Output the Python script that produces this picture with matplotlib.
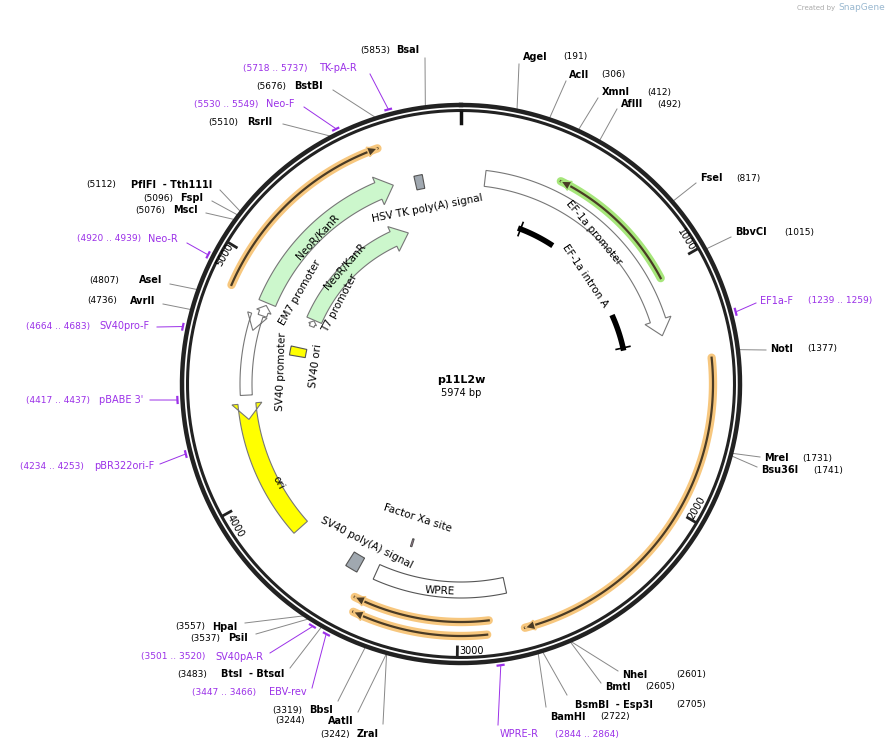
import numpy as np
import matplotlib
matplotlib.use("Agg")
import matplotlib.pyplot as plt
from matplotlib.patches import Polygon

TOTAL = 5974
NAME = "p11L2w"

# restriction sites
site_names = ["AgeI", "AclI", "XmnI", "AflII", "FseI", "BbvCI", "NotI", "MreI", "Bsu36I",
              "NheI", "BmtI", "BsmBI  - Esp3I", "BamHI",
              "BsaI", "BstBI", "RsrII", "PflFI  - Tth111I", "FspI", "MscI", "AseI", "AvrII",
              "HpaI", "PsiI", "BtsI  - BtsαI", "BbsI", "AatII", "ZraI"]
site_bp = [191, 306, 412, 492, 817, 1015, 1377, 1731, 1741,
           2601, 2605, 2705, 2722,
           5853, 5676, 5510, 5112, 5096, 5076, 4807, 4736,
           3557, 3537, 3483, 3319, 3244, 3242]

primer_names = ["TK-pA-R", "Neo-F", "Neo-R", "SV40pro-F", "pBABE 3'", "pBR322ori-F",
                "SV40pA-R", "EBV-rev", "WPRE-R", "EF1a-F"]
primer_start = [5718, 5530, 4920, 4664, 4417, 4234, 3501, 3447, 2844, 1239]
primer_end = [5737, 5549, 4939, 4683, 4437, 4253, 3520, 3466, 2864, 1259]

# layout of labels: name x, pos x, y, right side?, leader end
site_layout = [
    (523, 563, 57, True, (519, 64)), (569, 601, 75, True, (566, 81)),
    (602, 647, 92, True, (598, 98)), (621, 657, 104, True, (617, 109)),
    (700, 736, 178, True, (696, 183)), (735, 784, 232, True, (731, 237)),
    (770, 807, 349, True, (766, 350)), (764, 802, 458, True, (760, 457)),
    (761, 813, 470, True, (757, 467)), (622, 676, 675, True, (618, 671)),
    (605, 645, 687, True, (601, 683)), (575, 676, 705, True, (567, 695)),
    (550, 600, 717, True, (546, 707)),
    (419, 390, 50, False, (425, 58)), (323, 286, 86, False, (333, 90)),
    (272, 238, 122, False, (283, 124)), (212, 116, 185, False, (220, 190)),
    (203, 173, 198, False, (212, 201)), (198, 165, 210, False, (206, 213)),
    (162, 119, 280, False, (170, 284)), (155, 117, 301, False, (163, 304)),
    (237, 205, 627, False, (245, 623)), (248, 220, 638, False, (256, 634)),
    (284, 207, 674, False, (290, 668)), (333, 302, 710, False, (338, 701)),
    (354, 305, 721, False, (358, 712)), (379, 350, 734, False, (383, 724)),
]
primer_layout = [
    (357, 308, 68, False, (370, 74)), (295, 258, 104, False, (304, 107)),
    (178, 141, 239, False, (187, 243)), (150, 90, 326, False, (157, 327)),
    (143, 90, 400, False, (150, 400)), (154, 84, 466, False, (160, 464)),
    (263, 205, 657, False, (270, 653)), (307, 256, 692, False, (312, 688)),
    (500, 555, 734, True, (498, 725)), (760, 808, 301, True, (756, 303)),
]

# features
arrow_feats = [  # name, start, end, direction, r, width, fill
    ("EF-1a promoter", 111, 1270, 1, 207, 16, "white"),
    ("ori", 3787, 4323, -1, 215, 18, "#ffff00"),
    ("SV40 promoter", 4431, 4720, -1, 215, 12, "white"),
    ("EM7 promoter", 4795, 4845, 1, 210, 9, "white"),
    ("NeoR/KanR", 4857, 5662, 1, 210, 18, "#ccf7cc"),
    ("T7 promoter", 4830, 4866, 1, 160, 5, "white"),
    ("NeoR/KanR", 4870, 5655, 1, 160, 16, "#ccf7cc"),
]
box_feats = [
    ("WPRE", 2783, 3389, 206, 16, "white"),
    ("HSV TK poly(A) signal", 5762, 5800, 206, 14, "#a0a8b0"),
    ("SV40 poly(A) signal", 3468, 3525, 207, 16, "#a0a8b0"),
    ("SV40 ori", 4640, 4690, 166, 16, "#ffff00"),
    ("Factor Xa site", 3266, 3274, 166, 8, "#e8a0c8"),
]
line_feats = [  # start, end, direction, r, halo colour
    (1394, 2743, 1, 252, "#f7c77e"),
    (2876, 3427, 1, 238, "#f7c77e"),
    (2888, 3407, 1, 252, "#f7c77e"),
    (4868, 5650, 1, 250, "#f7c77e"),
    (1030, 435, -1, 226, "#a6e67a"),
]
intron_parts = [(349, 541), (1102, 1285)]
intron_r = 166

# feature labels: text, x, y, rotation
feat_labels = [
    ("EF-1a promoter", 594, 233, -50), ("EF-1a intron A", 585, 276, -56),
    ("NeoR/KanR", 318, 237, 47), ("NeoR/KanR", 345, 267, 49),
    ("EM7 promoter", 300, 293, 60), ("T7 promoter", 340, 303, 62),
    ("HSV TK poly(A) signal", 427, 208, 11), ("SV40 promoter", 281, 372, 88),
    ("SV40 ori", 316, 366, 83), ("ori", 278, 483, -62),
    ("SV40 poly(A) signal", 367, 543, -27), ("Factor Xa site", 418, 518, -18),
    ("WPRE", 440, 591, -3),
]
ticks = [1000, 2000, 3000, 4000, 5000]
tick_labels = [("1000", 686, 240, -58), ("2000", 697, 508, 60), ("3000", 472, 651, 0),
               ("4000", 235, 526, -60), ("5000", 225, 255, 60)]

CX, CY = 461, 384
PURPLE = "#9b30e8"


def ang(bp):
    return np.deg2rad(bp / TOTAL * 360.0)


def pt(bp, r):
    a = ang(bp)
    return CX + r * np.sin(a), CY - r * np.cos(a)


def arc(b0, b1, r, n=120):
    bs = np.linspace(b0, b1, n)
    return np.array([pt(b, r) for b in bs])


fig = plt.figure(figsize=(8.95, 7.51), dpi=100)
ax = fig.add_axes([0, 0, 1, 1])
ax.set_xlim(0, 895)
ax.set_ylim(751, 0)
ax.axis("off")

# backbone
for r, lw in [(279, 3.2), (273.5, 2.2)]:
    c = arc(0, TOTAL, r, 400)
    ax.plot(c[:, 0], c[:, 1], color="#222222", lw=lw, zorder=3)
for t in ticks:
    p0, p1 = pt(t, 263), pt(t, 272)
    ax.plot([p0[0], p1[0]], [p0[1], p1[1]], color="#222222", lw=2, zorder=3)
p0, p1 = pt(0, 261), pt(0, 272)
ax.plot([p0[0], p1[0]], [p0[1], p1[1]], color="#111111", lw=2.5, zorder=3)
for txt, x, y, rot in tick_labels:
    ax.text(x, y, txt, fontsize=7, rotation=rot, ha="center", va="center")

# arrow features
for name, b0, b1, d, r, w, fill in arrow_feats:
    head = min(16.0 / r * TOTAL / (2 * np.pi), abs(b1 - b0) * 0.6)
    bb = b1 - d * head
    outer = arc(b0, bb, r + w / 2)
    inner = arc(bb, b0, r - w / 2)
    hw = w / 2 + min(6, w * 0.35)
    poly = np.vstack([outer, [pt(bb, r + hw)], [pt(b1, r)], [pt(bb, r - hw)], inner])
    ax.add_patch(Polygon(poly, closed=True, facecolor=fill, edgecolor="#777777", lw=0.8, zorder=4))

for name, b0, b1, r, w, fill in box_feats:
    poly = np.vstack([arc(b0, b1, r + w / 2), arc(b1, b0, r - w / 2)])
    ax.add_patch(Polygon(poly, closed=True, facecolor=fill, edgecolor="#555555", lw=0.8, zorder=4))

for b0, b1, d, r, halo in line_feats:
    c = arc(b0, b1, r)
    ax.plot(c[:, 0], c[:, 1], color=halo, lw=6, solid_capstyle="round", zorder=4)
    ax.plot(c[:, 0], c[:, 1], color="#4a3b25", lw=1.6, zorder=5)
    hb = b1 - d * 10.0 / r * TOTAL / (2 * np.pi)
    tri = [pt(hb, r - 5), pt(b1, r), pt(hb, r + 5)]
    ax.add_patch(Polygon(tri, closed=True, facecolor="#4a3b25", edgecolor=halo, lw=1, zorder=5))

for b0, b1 in intron_parts:
    c = arc(b0, b1, intron_r)
    ax.plot(c[:, 0], c[:, 1], color="black", lw=4, zorder=4)
for b in (intron_parts[0][0], intron_parts[-1][1]):
    p0, p1 = pt(b, intron_r - 7), pt(b, intron_r + 7)
    ax.plot([p0[0], p1[0]], [p0[1], p1[1]], color="black", lw=1.2, zorder=4)

for txt, x, y, rot in feat_labels:
    ax.text(x, y, txt, fontsize=7.5, rotation=rot, ha="center", va="center", zorder=6)

# sites
for name, bp, (nx, px, y, right, end) in zip(site_names, site_bp, site_layout):
    s = pt(bp, 281)
    ax.plot([s[0], end[0]], [s[1], end[1]], color="#888888", lw=0.7, zorder=2)
    ha = "left" if right else "right"
    ax.text(nx, y, name, fontsize=7, fontweight="bold", ha=ha, va="center")
    ax.text(px, y, f"({bp})", fontsize=6.5, ha=ha, va="center")

# primers
for name, b0, b1, (nx, px, y, right, end) in zip(primer_names, primer_start, primer_end, primer_layout):
    c = arc(b0, b1, 284)
    ax.plot(c[:, 0], c[:, 1], color=PURPLE, lw=1.6, zorder=3)
    s = pt((b0 + b1) / 2, 285)
    ax.plot([s[0], end[0]], [s[1], end[1]], color=PURPLE, lw=0.7, zorder=2)
    ha = "left" if right else "right"
    ax.text(nx, y, name, fontsize=7, color=PURPLE, ha=ha, va="center")
    ax.text(px, y, f"({b0} .. {b1})", fontsize=6.5, color=PURPLE, ha=ha, va="center")

ax.text(CX, 380, NAME, fontsize=8, fontweight="bold", ha="center", va="center")
ax.text(CX, 393, f"{TOTAL} bp", fontsize=7, ha="center", va="center")
ax.text(835, 8, "Created by", fontsize=5, color="#aaaaaa", ha="right", va="center")
ax.text(838, 8, "SnapGene", fontsize=6.5, color="#99b8d0", ha="left", va="center")

fig.savefig("out.png", dpi=100)
